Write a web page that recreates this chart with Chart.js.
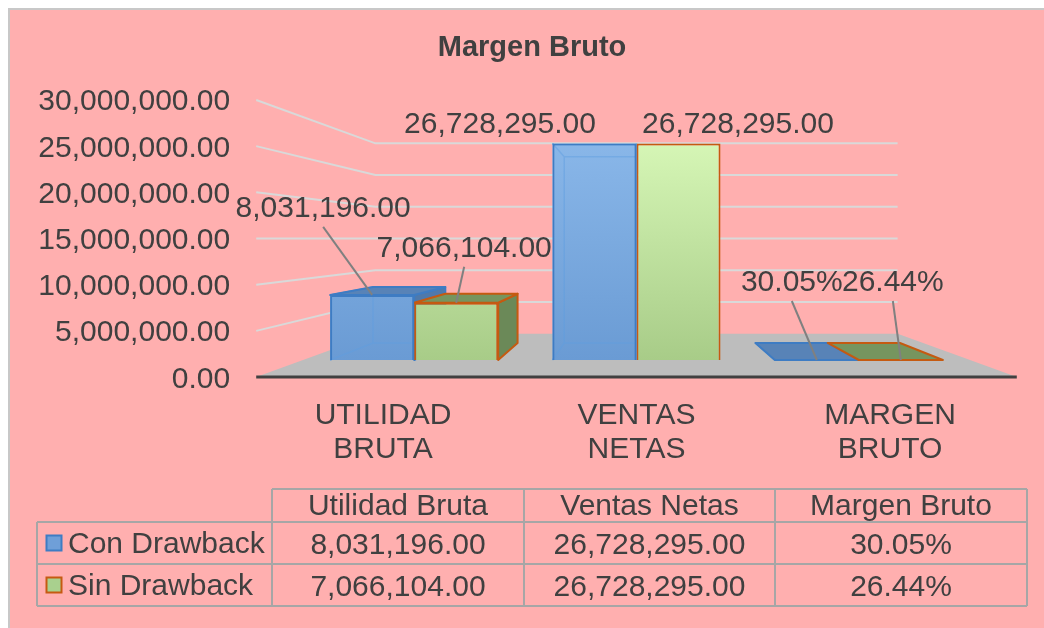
<!DOCTYPE html>
<html><head><meta charset="utf-8">
<script src="https://cdn.jsdelivr.net/npm/chart.js@4.4.1/dist/chart.umd.min.js"></script>
<style>html,body{margin:0;padding:0;background:#fff;}canvas{display:block;}</style>
</head><body>
<canvas id="c" width="1044" height="628"></canvas>
<script>
// ---------- data ----------
const chartTitle = 'Margen Bruto';
const categories = [['UTILIDAD', 'BRUTA'], ['VENTAS', 'NETAS'], ['MARGEN', 'BRUTO']];
const tableHeaders = ['Utilidad Bruta', 'Ventas Netas', 'Margen Bruto'];
const seriesNames = ['Con Drawback', 'Sin Drawback'];
const conDrawback = [8031196.00, 26728295.00, 0.3005];
const sinDrawback = [7066104.00, 26728295.00, 0.2644];
const valueFormats = ['number', 'number', 'percent'];
const yTicks = [0, 5000000, 10000000, 15000000, 20000000, 25000000, 30000000];

// ---------- layout / style ----------
const FONT = '"Liberation Sans", Arial, Helvetica, sans-serif';
const FS = 30;
const TEXT = '#404040';
const PERSP = { front: 1.1403, wall: 0.783, back: 0.86 };
// label offsets (from bar front-top centre) per series per category: [dx, dy to baseline]
const labelOffsets = [
  [[-49, -78], [-94.5, -11], [-25, -69]],
  [[8, -46], [59.5, -11], [-8, -69]]
];
const seriesStyle = [
  { top: '#8DBAEB', bottom: '#6A9BD4', border: '#3E7CC3', side: '#4E79AC', topFace: '#5883B7', translucent: true, inner: '#5E9DE0' },
  { top: '#DBFBBB', bottom: '#A8CC88', border: '#C55A11', side: '#6B8958', topFace: '#76955F', translucent: false }
];
const tableLayout = { x0: 37, cols: [272, 524, 775, 1027], rows: [489, 522, 564, 606] };

function fmt(v, kind) {
  if (kind === 'percent') return (v * 100).toFixed(2) + '%';
  return v.toLocaleString('en-US', { minimumFractionDigits: 2, maximumFractionDigits: 2 });
}
function vanishing(ca) { return { x: (ca.left + ca.right) / 2, y: (ca.top + ca.bottom) / 2 }; }
function proj(V, x, y, f) { return [V.x + (x - V.x) * f, V.y + (y - V.y) * f]; }
function poly(ctx, pts, fill, stroke, lw) {
  ctx.beginPath();
  pts.forEach((p, i) => i ? ctx.lineTo(p[0], p[1]) : ctx.moveTo(p[0], p[1]));
  ctx.closePath();
  if (fill) { ctx.fillStyle = fill; ctx.fill(); }
  if (stroke) { ctx.strokeStyle = stroke; ctx.lineWidth = lw || 1.5; ctx.lineJoin = 'round'; ctx.stroke(); }
}
function line(ctx, a, b, color, lw) {
  ctx.beginPath(); ctx.moveTo(a[0], a[1]); ctx.lineTo(b[0], b[1]);
  ctx.strokeStyle = color; ctx.lineWidth = lw; ctx.stroke();
}
function vGrad(ctx, ca, top, bottom) {
  const g = ctx.createLinearGradient(0, ca.top, 0, ca.bottom);
  g.addColorStop(0, top); g.addColorStop(1, bottom); return g;
}
function withAlpha(hex, a) {
  const n = parseInt(hex.slice(1), 16);
  return `rgba(${n >> 16},${(n >> 8) & 255},${n & 255},${a})`;
}

const scene3d = {
  id: 'scene3d',
  beforeDraw(chart) {
    const ctx = chart.ctx;
    ctx.save();
    ctx.fillStyle = '#ffffff'; ctx.fillRect(0, 0, chart.width, chart.height);
    ctx.fillStyle = '#FFAFAF'; ctx.fillRect(9, 9, chart.width - 9, chart.height - 9);
    ctx.strokeStyle = '#C8C8C8'; ctx.lineWidth = 2;
    ctx.beginPath(); ctx.moveTo(9, chart.height); ctx.lineTo(9, 9); ctx.lineTo(chart.width, 9); ctx.stroke();
    // title
    ctx.fillStyle = TEXT; ctx.font = 'bold 29px ' + FONT; ctx.textAlign = 'center'; ctx.textBaseline = 'alphabetic';
    ctx.fillText(chartTitle, 532, 56);
    ctx.restore();
  },
  beforeDatasetsDraw(chart) {
    const ctx = chart.ctx, ca = chart.chartArea, V = vanishing(ca);
    const ys = chart.scales.y;
    ctx.save();
    // floor
    const y0 = ys.getPixelForValue(0);
    const fL = proj(V, ca.left, y0, PERSP.front), fR = proj(V, ca.right, y0, PERSP.front);
    const bL = proj(V, ca.left, y0, PERSP.wall), bR = proj(V, ca.right, y0, PERSP.wall);
    poly(ctx, [fL, bL, bR, fR], '#BDBDBD');
    // gridlines on side and back wall
    yTicks.forEach(v => {
      if (v === 0) return;
      const py = ys.getPixelForValue(v);
      const a = proj(V, ca.left, py, PERSP.front), b = proj(V, ca.left, py, PERSP.wall), c = proj(V, ca.right, py, PERSP.wall);
      ctx.beginPath(); ctx.moveTo(a[0], a[1]); ctx.lineTo(b[0], b[1]); ctx.lineTo(c[0], c[1]);
      ctx.strokeStyle = '#D9D9D9'; ctx.lineWidth = 2; ctx.stroke();
    });
    // front axis line
    line(ctx, fL, fR, '#404040', 3);
    // y tick labels (front plane)
    ctx.fillStyle = TEXT; ctx.font = FS + 'px ' + FONT; ctx.textAlign = 'right'; ctx.textBaseline = 'alphabetic';
    yTicks.forEach(v => {
      const p = proj(V, ca.left, ys.getPixelForValue(v), PERSP.front);
      ctx.fillText(fmt(v, 'number'), p[0] - 26, p[1] + 10.5);
    });
    // category labels (front plane)
    ctx.textAlign = 'center';
    const xs = chart.scales.x;
    categories.forEach((lab, i) => {
      const p = proj(V, xs.getPixelForValue(i), y0, PERSP.front);
      lab.forEach((ln, k) => ctx.fillText(ln, p[0], p[1] + 47 + k * 34));
    });
    // bar 3D faces
    chart.data.datasets.forEach((ds, di) => {
      const st = seriesStyle[di];
      chart.getDatasetMeta(di).data.forEach(bar => {
        const { x, y, base, width } = bar.getProps(['x', 'y', 'base', 'width'], true);
        const L = x - width / 2, R = x + width / 2, T = Math.min(y, base), B = Math.max(y, base);
        const bk = (px, py) => proj(V, px, py, PERSP.back);
        if (st.translucent) {
          ctx.fillStyle = vGrad(ctx, ca, st.top, st.bottom);
          ctx.fillRect(L, T, R - L, B - T);
          const lt = bk(L, T), rt = bk(R, T), lb = bk(L, B), rb = bk(R, B);
          ctx.lineWidth = 1.5; ctx.strokeStyle = st.inner;
          ctx.beginPath();
          ctx.moveTo(lt[0], lt[1]); ctx.lineTo(lb[0], lb[1]); ctx.lineTo(rb[0], rb[1]); ctx.lineTo(rt[0], rt[1]); ctx.closePath();
          ctx.moveTo(L, T); ctx.lineTo(lt[0], lt[1]);
          ctx.moveTo(L, B); ctx.lineTo(lb[0], lb[1]);
          ctx.moveTo(R, B); ctx.lineTo(rb[0], rb[1]);
          ctx.moveTo(R, T); ctx.lineTo(rt[0], rt[1]);
          ctx.stroke();
        }
        if (R < V.x - 1) poly(ctx, [[R, T], [R, B], bk(R, B), bk(R, T)], st.side, st.border, 2);
        else if (L > V.x + 1 && B - T > 1) poly(ctx, [[L, T], [L, B], bk(L, B), bk(L, T)], st.side, st.border, 2);
        if (T > V.y) poly(ctx, [[L, T], [R, T], bk(R, T), bk(L, T)], st.topFace, st.border, 2);
      });
    });
    ctx.restore();
  },
  afterDatasetsDraw(chart) {
    const ctx = chart.ctx;
    ctx.save();
    ctx.font = FS + 'px ' + FONT; ctx.textAlign = 'center'; ctx.textBaseline = 'alphabetic';
    chart.data.datasets.forEach((ds, di) => {
      chart.getDatasetMeta(di).data.forEach((bar, i) => {
        const { x, y } = bar.getProps(['x', 'y'], true);
        const [dx, dy] = labelOffsets[di][i];
        const cx = x + dx, by = y + dy;
        if (Math.abs(dy) > 30) line(ctx, [cx, by + 10], [x, y], '#808080', 2);
        ctx.fillStyle = TEXT;
        ctx.fillText(fmt(ds.data[i], valueFormats[i]), cx, by);
      });
    });
    ctx.restore();
  },
  afterDraw(chart) {
    const ctx = chart.ctx, T = tableLayout;
    ctx.save();
    ctx.strokeStyle = '#A6A6A6'; ctx.lineWidth = 2;
    const c = T.cols, r = T.rows;
    ctx.beginPath();
    ctx.moveTo(c[0], r[0]); ctx.lineTo(c[c.length - 1], r[0]);
    for (let k = 1; k < r.length; k++) { ctx.moveTo(T.x0, r[k]); ctx.lineTo(c[c.length - 1], r[k]); }
    c.forEach(xx => { ctx.moveTo(xx, r[0]); ctx.lineTo(xx, r[r.length - 1]); });
    ctx.moveTo(T.x0, r[1]); ctx.lineTo(T.x0, r[r.length - 1]);
    ctx.stroke();
    ctx.fillStyle = TEXT; ctx.font = FS + 'px ' + FONT; ctx.textBaseline = 'alphabetic';
    ctx.textAlign = 'center';
    tableHeaders.forEach((h, i) => ctx.fillText(h, (c[i] + c[i + 1]) / 2, r[0] + 26));
    const series = [conDrawback, sinDrawback];
    series.forEach((arr, si) => {
      const rowTop = r[si + 1], rowBot = r[si + 2], base = rowTop + 32;
      arr.forEach((v, i) => { ctx.fillStyle = TEXT; ctx.textAlign = 'center'; ctx.fillText(fmt(v, valueFormats[i]), (c[i] + c[i + 1]) / 2, base); });
      const st = seriesStyle[si];
      const sq = 15, sy = (rowTop + rowBot) / 2 - sq / 2;
      ctx.fillStyle = si === 0 ? '#6F9FD8' : '#A9D08E';
      ctx.fillRect(T.x0 + 9.5, sy, sq, sq);
      ctx.strokeStyle = st.border; ctx.lineWidth = 2; ctx.strokeRect(T.x0 + 9.5, sy, sq, sq);
      ctx.fillStyle = TEXT; ctx.textAlign = 'left';
      ctx.fillText(seriesNames[si], T.x0 + 31, base - 1);
    });
    ctx.restore();
  }
};

new Chart(document.getElementById('c'), {
  type: 'bar',
  data: {
    labels: categories,
    datasets: [
      { label: seriesNames[0], data: conDrawback, borderColor: seriesStyle[0].border, borderWidth: 2,
        backgroundColor: c => c.chart.chartArea ? vGrad(c.chart.ctx, c.chart.chartArea, withAlpha(seriesStyle[0].top, 0.55), withAlpha(seriesStyle[0].bottom, 0.55)) : seriesStyle[0].bottom },
      { label: seriesNames[1], data: sinDrawback, borderColor: seriesStyle[1].border, borderWidth: 2,
        backgroundColor: c => c.chart.chartArea ? vGrad(c.chart.ctx, c.chart.chartArea, seriesStyle[1].top, seriesStyle[1].bottom) : seriesStyle[1].bottom }
    ]
  },
  options: {
    responsive: false,
    animation: false,
    layout: { padding: { left: 303, right: 74, top: 117, bottom: 268 } },
    datasets: { bar: { categoryPercentage: 0.756, barPercentage: 1.0 } },
    scales: {
      x: { display: false },
      y: { display: false, min: yTicks[0], max: yTicks[yTicks.length - 1], ticks: { stepSize: yTicks[1] - yTicks[0] } }
    },
    plugins: { legend: { display: false }, tooltip: { enabled: false }, title: { display: false } }
  },
  plugins: [scene3d]
});
</script>
</body></html>
